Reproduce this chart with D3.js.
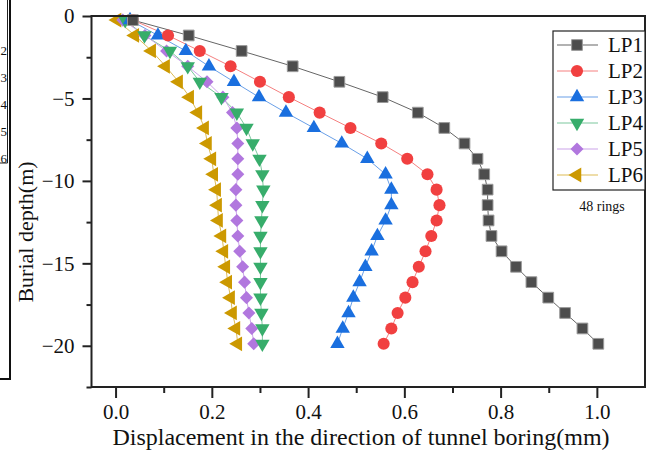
<!DOCTYPE html>
<html>
<head>
<meta charset="utf-8">
<script src="https://cdn.jsdelivr.net/npm/d3@7"></script>
<style>
  html, body { margin: 0; padding: 0; background: #fff; }
  svg { display: block; }
  text { font-family: "Liberation Serif", "Times New Roman", serif; fill: #111; }
</style>
</head>
<body>
<svg id="chart" width="647" height="450"></svg>
<script>
// Burial depth of each monitoring point (m)
const depths = [-0.25, -1.18, -2.12, -3.05, -3.99, -4.92, -5.86, -6.79, -7.73, -8.66, -9.6,
  -10.53, -11.47, -12.4, -13.34, -14.27, -15.21, -16.14, -17.08, -18.01, -18.95, -19.88];

// Displacement along the boring direction (mm) for each inclinometer line
const lp1 = [0.036, 0.152, 0.262, 0.368, 0.465, 0.555, 0.628, 0.683, 0.725, 0.752, 0.766,
  0.773, 0.773, 0.775, 0.781, 0.802, 0.832, 0.864, 0.899, 0.934, 0.970, 1.003];
const lp2 = [0.036, 0.109, 0.175, 0.239, 0.300, 0.360, 0.424, 0.488, 0.552, 0.606, 0.648,
  0.667, 0.673, 0.667, 0.656, 0.644, 0.630, 0.617, 0.602, 0.586, 0.573, 0.557];
const lp3 = [0.030, 0.088, 0.146, 0.194, 0.246, 0.298, 0.354, 0.412, 0.470, 0.523, 0.561,
  0.573, 0.573, 0.561, 0.544, 0.532, 0.519, 0.507, 0.494, 0.484, 0.472, 0.461];
const lp4 = [0.020, 0.060, 0.113, 0.150, 0.175, 0.220, 0.252, 0.272, 0.285, 0.299, 0.305,
  0.307, 0.305, 0.303, 0.301, 0.301, 0.301, 0.301, 0.301, 0.303, 0.305, 0.305];
const lp5 = [0.015, 0.061, 0.106, 0.150, 0.190, 0.223, 0.243, 0.252, 0.254, 0.254, 0.254,
  0.250, 0.250, 0.252, 0.254, 0.258, 0.264, 0.268, 0.272, 0.277, 0.283, 0.287];
const lp6 = [0.003, 0.040, 0.075, 0.104, 0.131, 0.154, 0.171, 0.185, 0.191, 0.200, 0.204,
  0.210, 0.212, 0.214, 0.221, 0.225, 0.229, 0.233, 0.239, 0.243, 0.250, 0.254];

const seriesNames = ["LP1", "LP2", "LP3", "LP4", "LP5", "LP6"];
const seriesValues = [lp1, lp2, lp3, lp4, lp5, lp6];

const xTickValues = [0, 0.2, 0.4, 0.6, 0.8, 1.0];
const xMinorValues = [0.1, 0.3, 0.5, 0.7, 0.9];
const yTickValues = [0, -5, -10, -15, -20];
const yMinorValues = [-2.5, -7.5, -12.5, -17.5, -22.5];

const xTitle = "Displacement in the direction of tunnel boring(mm)";
const yTitle = "Burial depth(m)";
const note = "48 rings";
const edgeDigits = ["2", "3", "4", "5", "6"];

// Series styling (Origin-like palette)
const colors = ["#4d4d4d", "#f14040", "#1a6fdf", "#37ad6b", "#b177de", "#cc9900"];
const lineColors = ["#666666", "#f58080", "#6aa0e8", "#7cc89d", "#cba4ea", "#ddbb55"];
const shapes = [
  { type: d3.symbolSquare, size: 115, rot: 0 },
  { type: d3.symbolCircle, size: 115, rot: 0 },
  { type: d3.symbolTriangle, size: 90, rot: 0 },
  { type: d3.symbolTriangle, size: 90, rot: 180 },
  { type: d3.symbolSquare, size: 85, rot: 45 },
  { type: d3.symbolTriangle, size: 95, rot: -90 }
];

const svg = d3.select("#chart");
const plotLeft = 91.5, plotRight = 645, plotTop = 16, plotBottom = 387;

const x = d3.scaleLinear().domain([-0.05, 1.1]).range([plotLeft, plotRight]);
const y = d3.scaleLinear().domain([0, -22.5]).range([plotTop, plotBottom]);

// Partial frame of the neighbouring panel at the left edge
const edge = svg.append("g");
edge.append("line").attr("x1", 10).attr("x2", 10).attr("y1", 0).attr("y2", 380)
  .attr("stroke", "#111").attr("stroke-width", 2);
edge.append("line").attr("x1", 0).attr("x2", 10).attr("y1", 379).attr("y2", 379)
  .attr("stroke", "#111").attr("stroke-width", 2);
edge.append("line").attr("x1", 7.5).attr("x2", 7.5).attr("y1", 0).attr("y2", 163)
  .attr("stroke", "#222").attr("stroke-width", 1);
edge.append("line").attr("x1", 0).attr("x2", 7.5).attr("y1", 163).attr("y2", 163)
  .attr("stroke", "#222").attr("stroke-width", 1);
edge.append("g")
  .selectAll("text").data(edgeDigits).join("text")
  .attr("x", 7).attr("y", (d, i) => 50 + i * 27)
  .attr("dy", "0.35em").attr("text-anchor", "end")
  .style("font-size", "13px").text(d => d);

// Axes
const tickStyle = g => {
  g.selectAll(".domain").remove();
  g.selectAll(".tick line").attr("stroke", "#222").attr("stroke-width", 2);
};

svg.append("g").attr("transform", `translate(${plotLeft},0)`)
  .call(d3.axisLeft(y).tickValues(yMinorValues).tickSize(5).tickFormat(""))
  .call(tickStyle);
const yAxis = svg.append("g").attr("transform", `translate(${plotLeft},0)`)
  .call(d3.axisLeft(y).tickValues(yTickValues).tickSize(9).tickPadding(8)
    .tickFormat(d3.format("d")))
  .call(tickStyle);
yAxis.selectAll(".tick text").attr("font-family", null)
  .style("font-size", "21px").attr("fill", "#111");

svg.append("g").attr("transform", `translate(0,${plotBottom})`)
  .call(d3.axisBottom(x).tickValues(xMinorValues).tickSize(6).tickFormat(""))
  .call(tickStyle);
const xAxis = svg.append("g").attr("transform", `translate(0,${plotBottom})`)
  .call(d3.axisBottom(x).tickValues(xTickValues).tickSize(11).tickPadding(6)
    .tickFormat(d3.format(".1f")))
  .call(tickStyle);
xAxis.selectAll(".tick text").attr("font-family", null)
  .style("font-size", "21px").attr("fill", "#111");

// Series lines and markers
const plot = svg.append("g");
const line = d3.line().x(d => x(d[0])).y(d => y(d[1]));
seriesValues.forEach((vals, s) => {
  const pts = vals.map((v, i) => [v, depths[i]]);
  plot.append("path").datum(pts)
    .attr("d", line).attr("fill", "none")
    .attr("stroke", lineColors[s]).attr("stroke-width", 1);
});
// LP6 is drawn first so that LP1 ends up on top
for (let s = seriesValues.length - 1; s >= 0; s--) {
  const sh = shapes[s];
  const sym = d3.symbol().type(sh.type).size(sh.size);
  plot.append("g").selectAll("path")
    .data(seriesValues[s].map((v, i) => [v, depths[i]]))
    .join("path")
    .attr("d", sym)
    .attr("transform", d => `translate(${x(d[0])},${y(d[1])}) rotate(${sh.rot})`)
    .attr("fill", colors[s])
    .attr("stroke", s === 0 ? "#9a9a9a" : "none")
    .attr("stroke-width", 1);
}

// Frame
svg.append("rect").attr("x", plotLeft).attr("y", plotTop)
  .attr("width", plotRight - plotLeft).attr("height", plotBottom - plotTop)
  .attr("fill", "none").attr("stroke", "#222").attr("stroke-width", 2);

// Legend
const lg = svg.append("g");
lg.append("rect").attr("x", 553).attr("y", 31).attr("width", 92).attr("height", 159)
  .attr("fill", "#fff").attr("stroke", "#222").attr("stroke-width", 1.2);
seriesNames.forEach((name, s) => {
  const cy = 45 + s * 26;
  lg.append("line").attr("x1", 557).attr("x2", 598).attr("y1", cy).attr("y2", cy)
    .attr("stroke", lineColors[s]).attr("stroke-width", 1.2);
  const sh = shapes[s];
  lg.append("path").attr("d", d3.symbol().type(sh.type).size(sh.size)())
    .attr("transform", `translate(577,${cy}) rotate(${sh.rot})`)
    .attr("fill", colors[s])
    .attr("stroke", s === 0 ? "#9a9a9a" : "none");
  lg.append("text").attr("x", 608).attr("y", cy).attr("dy", "0.35em")
    .style("font-size", "21px").text(name);
});

svg.append("text").attr("x", 602).attr("y", 206).attr("dy", "0.35em")
  .attr("text-anchor", "middle").style("font-size", "14px").text(note);

// Axis titles
svg.append("text").attr("x", 361).attr("y", 445)
  .attr("text-anchor", "middle").style("font-size", "24px").text(xTitle);
svg.append("text")
  .attr("transform", "translate(33,232) rotate(-90)")
  .attr("text-anchor", "middle").style("font-size", "22px").text(yTitle);
</script>
</body>
</html>
